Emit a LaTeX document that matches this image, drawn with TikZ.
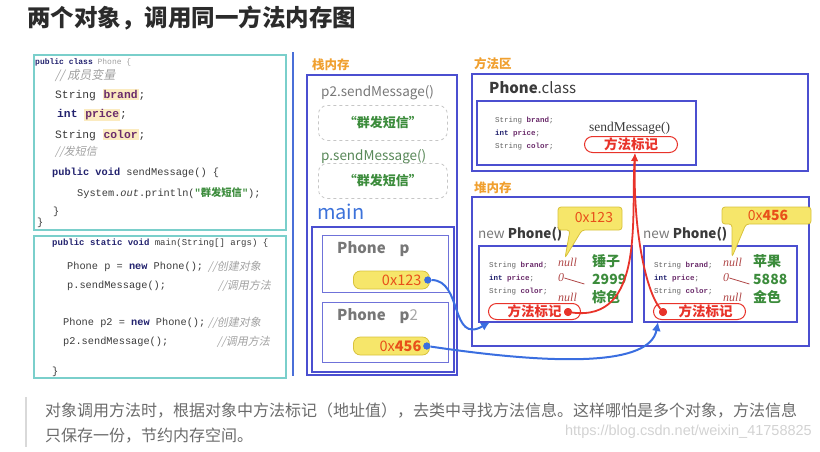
\documentclass[tikz,border=0pt]{standalone}
\usepackage{fontspec}
\usetikzlibrary{arrows.meta,calc}
\setmainfont{Noto Sans CJK SC}
\newfontfamily\cmtfont{Noto Sans CJK SC}[FakeSlant=0.2]
\newfontfamily\codefont{Liberation Mono}
\newfontfamily\handfont{Liberation Serif}
\newfontfamily\wmfont{Liberation Sans}
\newcommand\fs[1]{\fontsize{#1}{#1}\selectfont}
\definecolor{boxblue}{HTML}{4B4FD0}
\definecolor{codeteal}{HTML}{7ACFCB}
\definecolor{sepblue}{HTML}{4A6FD8}
\definecolor{labelorange}{HTML}{F0A030}
\definecolor{valgreen}{HTML}{3C8C3C}
\definecolor{markred}{HTML}{E8332A}
\definecolor{addrfill}{HTML}{F6E66A}
\definecolor{addrline}{HTML}{D8C23C}
\definecolor{addrtext}{HTML}{E8501A}
\definecolor{arrowblue}{HTML}{3A6EE0}
\definecolor{kwblue}{HTML}{22226E}
\definecolor{fieldpurple}{HTML}{6B2C6B}
\definecolor{hlyellow}{HTML}{FBEBC0}
\definecolor{cmtgray}{HTML}{A0A0A0}
\definecolor{codegray}{HTML}{3A3A3A}
\definecolor{textgray}{HTML}{777777}
\definecolor{titlegray}{HTML}{2B2B2B}
\definecolor{nullred}{HTML}{B04848}
\newcommand\hlfield[1]{{\setlength{\fboxsep}{1pt}\colorbox{hlyellow}{\textbf{\color{fieldpurple}#1}}}}
\newcommand\kw[1]{\textbf{\color{kwblue}#1}}
\tikzset{
  region/.style={draw=boxblue,line width=1.3pt,anchor=north west,inner sep=0,outer sep=0},
  codebox/.style={draw=codeteal,line width=1.6pt,anchor=north west,inner sep=0},
  sepline/.style={draw=sepblue,line width=2.2pt},
  title/.style={anchor=west,inner sep=0,font=\fs{23.5}\bfseries,text=titlegray},
  areatitle/.style={anchor=west,inner sep=0,font=\fs{12.5}\bfseries,text=labelorange},
  code/.style={anchor=west,inner sep=0,text=codegray},
  comment/.style={anchor=west,inner sep=0,text=cmtgray,font=\cmtfont\fs{11}},
  plain/.style={anchor=west,inner sep=0},
  dashbox/.style={draw=gray!45,dashed,rounded corners=9pt,anchor=north west,inner sep=0,
                  line width=0.8pt,font=\fs{13}\bfseries,text=valgreen},
  varbox/.style={draw=boxblue!80,line width=1pt,anchor=north west,inner sep=0},
  addr/.style={fill=addrfill,draw=addrline,line width=0.8pt,rounded corners=7pt,anchor=west,
               minimum height=18,text width=60,align=right,inner xsep=8,inner ysep=0,
               text=addrtext,font=\fs{14.5}},
  bluedot/.style={circle,fill=arrowblue,inner sep=0,minimum size=7},
  reddot/.style={circle,fill=markred,inner sep=0,minimum size=8},
  markpill/.style={draw=markred,line width=1pt,rounded corners=8pt,anchor=north west,inner sep=0,
                   minimum height=16,text=markred,font=\fs{13.5}\bfseries},
  callout/.style={fill=addrfill,draw=addrline,line width=0.8pt,rounded corners=3pt},
  calltext/.style={text=addrtext,font=\fs{14},inner sep=0},
  tinycode/.style={anchor=west,inner sep=0,font=\codefont\fs{7.5},text=codegray!80},
  value/.style={anchor=west,inner sep=0,font=\fs{14}\bfseries,text=valgreen},
  nullmark/.style={anchor=west,inner sep=0,font=\handfont\itshape\fs{12},text=nullred},
  refarrow/.style={draw=arrowblue,line width=2pt,-{Latex[length=9pt,width=9pt]}},
  markarrow/.style={draw=markred,line width=1.8pt,-{Latex[length=8pt,width=7pt]}},
  note/.style={anchor=west,inner sep=0,font=\fs{16},text=textgray!90!black},
}
\begin{document}
\begin{tikzpicture}[x=1pt,y=-1pt]
  \useasboundingbox (0,0) rectangle (820,451);
  \node[title] (title) at (27,18) {两个对象，调用同一方法内存图};

  % source code on the left
  \node[codebox,minimum width=252,minimum height=175] (classcode) at (33,54) {};
  \node[codebox,minimum width=252,minimum height=142] (maincode) at (33,235) {};
  \coordinate (septop) at (293,52);
  \coordinate (sepbot) at (293,376);
  \draw[sepline] (septop) -- (sepbot);

  \node[code,font=\codefont\fs{8}] (c0) at (35,62) {\kw{public class} {\color{cmtgray}Phone \{}};
  \node[comment,font=\cmtfont\fs{12}] (c1) at (55,75) {// 成员变量};
  \node[code,font=\codefont\fs{11.3}] (c2) at (55,95) {String \hlfield{brand};};
  \node[code,font=\codefont\fs{11.3}] (c3) at (57,115) {\kw{int} \hlfield{price};};
  \node[code,font=\codefont\fs{11.3}] (c4) at (55,135) {String \hlfield{color};};
  \node[comment] (c5) at (55,152) {//发短信};
  \node[code,font=\codefont\fs{10.3}] (c6) at (52,173) {\kw{public void} sendMessage() \{};
  \node[code,font=\codefont\fs{10.3}] (c7) at (77,193)
    {System.\textit{out}.println({\color{valgreen}\textbf{"}{\rmfamily\bfseries 群发短信}\textbf{"}});};
  \node[code,font=\codefont\fs{10.3}] (c8) at (53,212) {\}};
  \node[code,font=\codefont\fs{10.3}] (c9) at (37,223) {\}};

  \node[code,font=\codefont\fs{9}] (m0) at (52,243) {\kw{public static void} main(String[] args) \{};
  \node[code,font=\codefont\fs{10.3}] (m1) at (67,267) {Phone p = \kw{new} Phone();};
  \node[comment] (m1c) at (208,267) {//创建对象};
  \node[code,font=\codefont\fs{10.3}] (m2) at (67,286) {p.sendMessage();};
  \node[comment] (m2c) at (218,286) {//调用方法};
  \node[code,font=\codefont\fs{10.3}] (m3) at (63,323) {Phone p2 = \kw{new} Phone();};
  \node[comment] (m3c) at (208,323) {//创建对象};
  \node[code,font=\codefont\fs{10.3}] (m4) at (63,342) {p2.sendMessage();};
  \node[comment] (m4c) at (217,342) {//调用方法};
  \node[code,font=\codefont\fs{10.3}] (m5) at (52,372) {\}};

  % stack
  \node[areatitle] (stacklbl) at (312,65) {栈内存};
  \node[region,minimum width=150,minimum height=300] (stack) at (307,75) {};
  \node[plain,font=\fs{13.5},text=textgray] (call2) at (321,93) {p2.sendMessage()};
  \node[dashbox,minimum width=129,minimum height=35] (frame2) at (318,105) {“群发短信”};
  \node[plain,font=\fs{13.5},text=valgreen!60!gray] (call1) at (321,157) {p.sendMessage()};
  \node[dashbox,minimum width=129,minimum height=35] (frame1) at (318,163) {“群发短信”};
  \node[plain,font=\fs{20},text=boxblue!80!cyan] (mainlbl) at (317,212) {main};
  \node[region,minimum width=142,minimum height=145] (mainframe) at (312,227) {};
  \node[varbox,minimum width=126,minimum height=57] (varp) at (322,235) {};
  \node[plain,font=\fs{15}\bfseries,text=textgray] (varpname) at (337,249) {Phone\hspace{14pt}p};
  \node[addr] (addrp) at (353,280) {0x123};
  \node[bluedot] (dotp) at ([xshift=-2pt]addrp.east) {};
  \node[varbox,minimum width=126,minimum height=60] (varp2) at (322,302) {};
  \node[plain,font=\fs{15}\bfseries,text=textgray] (varp2name) at (337,316)
    {Phone\hspace{14pt}p{\mdseries\color{gray!70}2}};
  \node[addr] (addrp2) at (353,346) {0x\textbf{456}};
  \node[bluedot] (dotp2) at ([xshift=-3pt]addrp2.east) {};

  % method area
  \node[areatitle] (methodlbl) at (474,64) {方法区};
  \node[region,minimum width=336,minimum height=97] (methodarea) at (472,74) {};
  \node[plain,font=\fs{15},text=codegray] (classname) at (489,88) {\textbf{Phone}.class};
  \node[region,minimum width=219,minimum height=64] (classbox) at (477,101) {};
  \node[tinycode] (f1) at (495,121) {String \textbf{\color{fieldpurple}brand};};
  \node[tinycode] (f2) at (495,134) {\kw{int} \textbf{\color{fieldpurple}price};};
  \node[tinycode] (f3) at (495,147) {String \textbf{\color{fieldpurple}color};};
  \node[plain,font=\handfont\fs{13.5},text=codegray] (sendsig) at (589,128) {sendMessage()};
  \node[markpill,minimum width=93] (methodmark) at (584,136) {方法标记};

  % heap
  \node[areatitle] (heaplbl) at (474,188) {堆内存};
  \node[region,minimum width=337,minimum height=149] (heap) at (472,197) {};

  \node[plain,font=\fs{13.5},text=textgray] (new1) at (478,234) {new \textbf{\color{codegray}Phone()}};
  \node[region,minimum width=153,minimum height=76] (obj1) at (479,246) {};
  \node[tinycode] (o1f1) at (489,266) {String \textbf{\color{fieldpurple}brand};};
  \node[tinycode] (o1f2) at (489,279) {\kw{int} \textbf{\color{fieldpurple}price};};
  \node[tinycode] (o1f3) at (489,292) {String \textbf{\color{fieldpurple}color};};
  \node[nullmark] (o1n1) at (558,262) {null};
  \node[nullmark] (o1n2) at (558,278) {0};
  \node[nullmark] (o1n3) at (558,297) {null};
  \node[value] (o1v1) at (592,261) {锤子};
  \node[value] (o1v2) at (592,279) {2999};
  \node[value] (o1v3) at (592,297) {棕色};
  \node[markpill,minimum width=92] (mark1) at (488,303) {方法标记\hspace{14pt}};
  \node[reddot] (dot1) at (568,312) {};

  \node[plain,font=\fs{13.5},text=textgray] (new2) at (643,234) {new \textbf{\color{codegray}Phone()}};
  \node[region,minimum width=153,minimum height=76] (obj2) at (644,246) {};
  \node[tinycode] (o2f1) at (654,266) {String \textbf{\color{fieldpurple}brand};};
  \node[tinycode] (o2f2) at (654,279) {\kw{int} \textbf{\color{fieldpurple}price};};
  \node[tinycode] (o2f3) at (654,292) {String \textbf{\color{fieldpurple}color};};
  \node[nullmark] (o2n1) at (723,262) {null};
  \node[nullmark] (o2n2) at (723,278) {0};
  \node[nullmark] (o2n3) at (723,297) {null};
  \node[value] (o2v1) at (753,261) {苹果};
  \node[value] (o2v2) at (753,279) {5888};
  \node[value] (o2v3) at (753,297) {金色};
  \node[markpill,minimum width=92] (mark2) at (653,303) {\hspace{12pt}方法标记};
  \node[reddot] (dot2) at (663,312) {};

  % strokes over the zero values
  \draw[nullred,line width=0.8pt] (o1n2.east) -- ++(20,6);
  \draw[nullred,line width=0.8pt] (o2n2.east) -- ++(20,6);

  % address callouts
  \draw[callout] (558,207) -- (622,207) -- (622,230) -- (582,230) -- (565,258) -- (570,230)
    -- (558,230) -- cycle;
  \node[calltext] (addr1) at (594,218) {0x123};
  \draw[callout] (722,207) -- (811,207) -- (811,224) -- (746,224) -- (732,257) -- (732,224)
    -- (722,224) -- cycle;
  \node[calltext] (addr2) at (768,215) {0x\textbf{456}};

  % references
  \coordinate (obj1in) at ([xshift=11pt]obj1.south west);
  \coordinate (obj2in) at ([xshift=14pt]obj2.south west);
  \coordinate (classin) at ([xshift=4pt]methodmark.south);
  \draw[refarrow] (dotp) .. controls +(35,0) and +(-40,23) .. (obj1in);
  \draw[refarrow] (dotp2) .. controls +(135,20) and +(-8,43) .. (obj2in);
  \draw[markarrow] (dot1) .. controls +(77,10) and +(-4,64) .. (classin);
  \draw[markarrow] (dot2) .. controls +(-18,-22) and +(-2,74) .. (classin);
  \node[reddot] at (dot1) {};
  \node[reddot] at (dot2) {};
  \node[bluedot] at (dotp) {};
  \node[bluedot] at (dotp2) {};

  % note at the bottom
  \coordinate (bartop) at (26,397);
  \coordinate (barbot) at (26,447);
  \draw[gray!30,line width=2.5pt] (bartop) -- (barbot);
  \node[note] (note1) at (45,410) {对象调用方法时，根据对象中方法标记（地址值），去类中寻找方法信息。这样哪怕是多个对象，方法信息};
  \node[note] (note2) at (45,436) {只保存一份，节约内存空间。};
  \node[anchor=east,inner sep=0,font=\wmfont\fs{14.5},text=gray!35] (wm) at (812,432)
    {https://blog.csdn.net/weixin\_41758825};
\end{tikzpicture}
\end{document}
